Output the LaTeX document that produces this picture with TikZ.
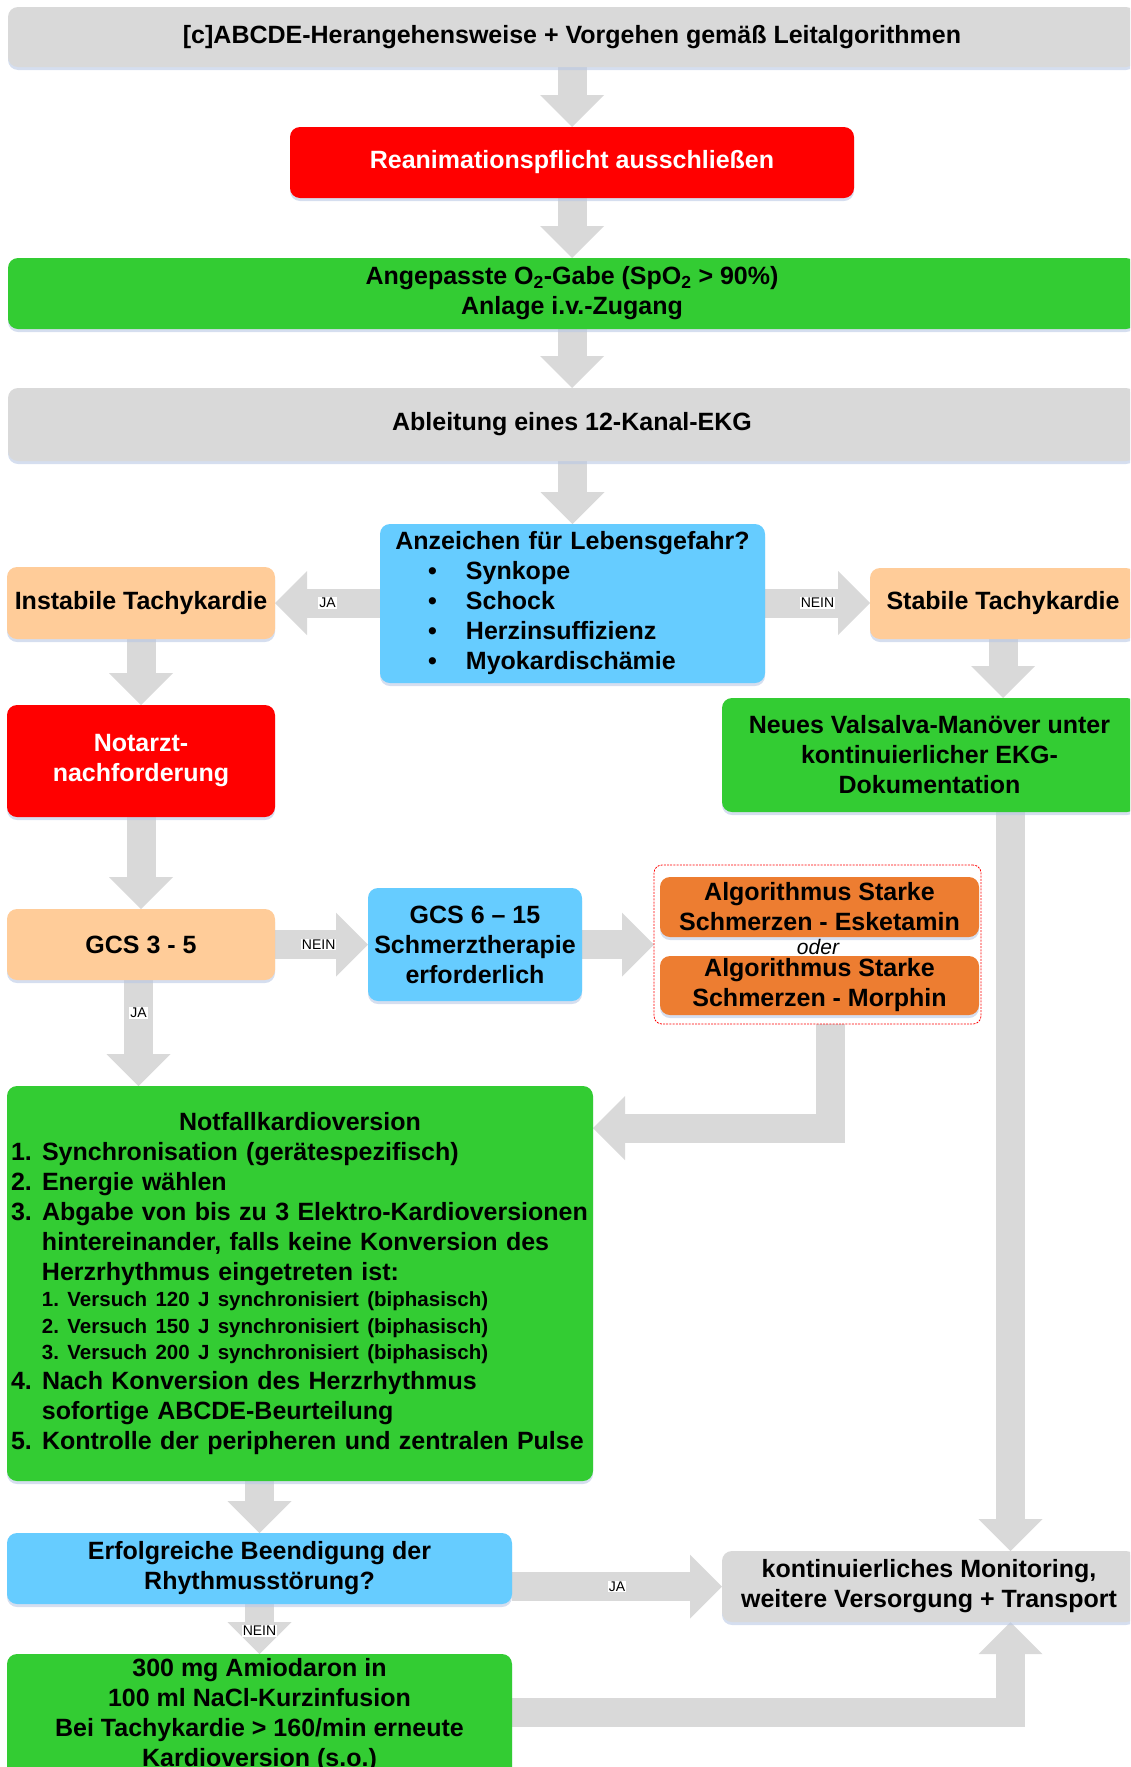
\documentclass[tikz,border=0pt]{standalone}
\usepackage{fontspec}
\setmainfont{Liberation Sans}
\usetikzlibrary{arrows.meta,shadows,calc,backgrounds}
\definecolor{boxgray}{RGB}{217,217,217}
\definecolor{arrgray}{RGB}{217,217,217}
\definecolor{cred}{RGB}{255,0,0}
\definecolor{cgreen}{RGB}{51,204,51}
\definecolor{cblue}{RGB}{102,204,255}
\definecolor{cpeach}{RGB}{255,204,153}
\definecolor{corange}{RGB}{237,125,49}
\definecolor{shade}{RGB}{185,200,228}
\newcommand\mainsz{\fontsize{25}{30}\selectfont\bfseries\frenchspacing}
\newcommand\smallsz{\fontsize{20.5}{26.5}\selectfont\bfseries\frenchspacing}
\newcommand\lblsz{\fontsize{14}{16}\selectfont}
\newcommand\itemnr[1]{\makebox[31pt][l]{#1}}
\newcommand\hang{\hspace*{31pt}}
\newcommand\bul[1]{\hspace*{48pt}\makebox[38pt][l]{•}#1\par}

\begin{document}
\begin{tikzpicture}[x=1pt,y=-1pt,
  box/.style={rounded corners=10pt, inner sep=0pt, outer sep=0pt, align=center,
    font=\mainsz, drop shadow={shadow xshift=0pt, shadow yshift=-3pt, fill=shade, opacity=0.6}},
  blk/.style={draw=arrgray, line width=29pt, line join=miter,
    -{Triangle[width=64pt,length=32pt,line width=0pt]}},
  lbl/.style={fill=white, inner sep=1pt, font=\lblsz, text=black}]

\useasboundingbox (0,0) rectangle (1130,1767);
\clip (0,0) rectangle (1130,1767);

% boxes
\node[box, fill=boxgray, minimum width=1128pt, minimum height=60pt] (top) at (572,37)
  {{[}c{]}ABCDE-Herangehensweise + Vorgehen gemäß Leitalgorithmen};
\node[box, fill=cred, text=white, minimum width=564pt, minimum height=71pt] (reanim) at (572,162.5)
  {Reanimationspflicht ausschließen};
\node[box, fill=cgreen, minimum width=1128pt, minimum height=71pt] (oxy) at (572,293.5)
  {Angepasste O\textsubscript{2}-Gabe (SpO\textsubscript{2} > 90\%)\\Anlage i.v.-Zugang};
\node[box, fill=boxgray, minimum width=1128pt, minimum height=73pt] (ekg) at (572,424.5)
  {Ableitung eines 12-Kanal-EKG};
\node[box, fill=cblue, minimum width=385pt, minimum height=159pt, text width=385pt, align=left] (danger) at (572.5,603.5)
  {\parindent=0pt{\centering Anzeichen für Lebensgefahr?\par}%
   \bul{Synkope}\bul{Schock}\bul{Herzinsuffizienz}\bul{Myokardischämie}};
\node[box, fill=cpeach, minimum width=268pt, minimum height=72pt] (instab) at (141,603)
  {Instabile Tachykardie};
\node[box, fill=cpeach, minimum width=266pt, minimum height=71pt] (stab) at (1003,603.5)
  {Stabile Tachykardie};
\node[box, fill=cred, text=white, minimum width=268pt, minimum height=112pt] (notarzt) at (141,761)
  {Notarzt-\\nachforderung};
\node[box, fill=cgreen, minimum width=415pt, minimum height=114pt] (valsalva) at (929.5,755)
  {Neues Valsalva-Manöver unter\\kontinuierlicher EKG-\\Dokumentation};
\node[box, fill=cpeach, minimum width=268pt, minimum height=71pt] (gcsA) at (141,944.5)
  {GCS 3 - 5};
\node[box, fill=cblue, minimum width=214pt, minimum height=113pt] (gcsB) at (475,944.5)
  {GCS 6 – 15\\Schmerztherapie\\erforderlich};
\node[draw=cred, line width=0.8pt, dash pattern=on 2pt off 1.2pt, rounded corners=8pt,
  minimum width=327pt, minimum height=159pt, inner sep=0pt, outer sep=0pt] (pain) at (817.5,944.5) {};
\node[box, fill=corange, minimum width=319pt, minimum height=60pt] (esket) at (819.5,907)
  {Algorithmus Starke\\Schmerzen - Esketamin};
\node[box, fill=corange, minimum width=319pt, minimum height=59pt] (morph) at (819.5,985.5)
  {Algorithmus Starke\\Schmerzen - Morphin};
\node[font=\fontsize{21}{24}\selectfont\itshape, inner sep=0pt] (oder) at (818,947) {oder};
\node[box, fill=cgreen, minimum width=586pt, minimum height=395pt, text width=578pt, align=left] (notfall) at (300,1283.5)
  {\parindent=0pt{\centering Notfallkardioversion\par}%
   \itemnr{1.}Synchronisation (gerätespezifisch)\par
   \itemnr{2.}Energie wählen\par
   \itemnr{3.}Abgabe von bis zu 3 Elektro-Kardioversionen\par
   \hang hintereinander, falls keine Konversion des\par
   \hang Herzrhythmus eingetreten ist:\par
   {\smallsz\hang 1. Versuch 120 J synchronisiert (biphasisch)\par
   \hang 2. Versuch 150 J synchronisiert (biphasisch)\par
   \hang 3. Versuch 200 J synchronisiert (biphasisch)\par}
   \itemnr{4.}Nach Konversion des Herzrhythmus\par
   \hang sofortige ABCDE-Beurteilung\par
   \itemnr{5.}Kontrolle der peripheren und zentralen Pulse\par};
\node[box, fill=cblue, minimum width=505pt, minimum height=71pt] (erfolg) at (259.5,1568.5)
  {Erfolgreiche Beendigung der\\Rhythmusstörung?};
\node[box, fill=boxgray, minimum width=414pt, minimum height=71pt] (kont) at (929,1586.5)
  {kontinuierliches Monitoring,\\weitere Versorgung + Transport};
\node[box, fill=cgreen, minimum width=505pt, minimum height=136pt] (amio) at (259.5,1722) {};
\node[font=\mainsz, align=center, inner sep=0pt] (amiotext) at ($(amio.north)+(0,61)$)
  {300 mg Amiodaron in\\100 ml NaCl-Kurzinfusion\\Bei Tachykardie > 160/min erneute\\Kardioversion (s.o.)};

% bend points and offset starts of the routed arrows
\coordinate (jaStart) at ($(gcsA.south)+(-2.5,0)$);
\coordinate (bendA) at (830.5,1128);
\coordinate (vx) at (1010.5,0);
\coordinate (bendB) at (1010.5,1712);

% connectors
\begin{pgfonlayer}{background}
\draw[blk] (top.south) -- (reanim.north);
\draw[blk] (reanim.south) -- (oxy.north);
\draw[blk] (oxy.south) -- (ekg.north);
\draw[blk] (danger.north |- ekg.south) -- (danger.north);
\draw[blk] (danger.west |- instab.east) -- node[lbl, pos=0.5] {JA} (instab.east);
\draw[blk] (danger.east |- instab.east) -- node[lbl, pos=0.5] {NEIN} (stab.west |- instab.east);
\draw[blk] (instab.south) -- (notarzt.north);
\draw[blk] (stab.south) -- (stab.south |- valsalva.north);
\draw[blk] (notarzt.south) -- (gcsA.north);
\draw[blk] (gcsA.east) -- node[lbl, pos=0.47] {NEIN} (gcsB.west);
\draw[blk] (gcsB.east) -- (pain.west);
\draw[blk] (jaStart) -- node[lbl, pos=0.31] {JA} (jaStart |- notfall.north);
\draw[blk] (pain.south -| bendA) -- (bendA) -- (notfall.east |- bendA);
\draw[blk] (erfolg.north |- notfall.south) -- (erfolg.north);
\draw[blk] (erfolg.east |- kont.west) -- node[lbl, pos=0.5] {JA} (kont.west);
\draw[blk] (erfolg.south) -- node[lbl, pos=0.54] {NEIN} (amio.north);
\draw[blk] (valsalva.south -| vx) -- (kont.north -| vx);
\draw[blk] (amio.east |- bendB) -- (bendB) -- (kont.south -| bendB);
\end{pgfonlayer}
\end{tikzpicture}
\end{document}
